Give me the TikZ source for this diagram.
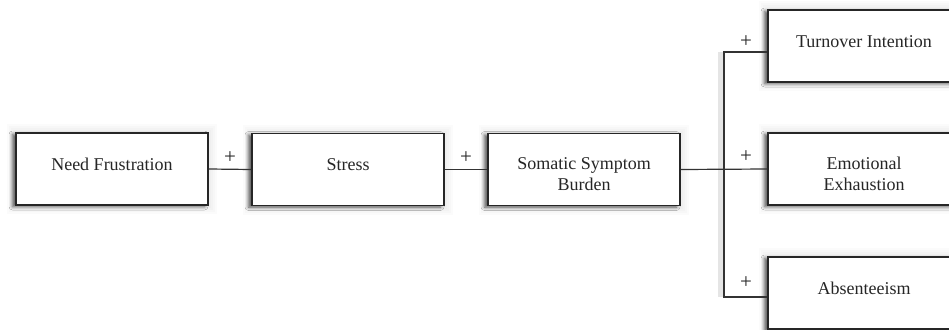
\documentclass[tikz,border=0pt]{standalone}
\usepackage{fontspec}
\setmainfont{Liberation Serif}
\usetikzlibrary{shadows.blur}
\begin{document}
\begin{tikzpicture}[x=1pt,y=-1pt,
  box/.style={draw=black!85, line width=1.4pt, fill=white, minimum width=192pt,
    minimum height=72pt, inner sep=0pt,
    preaction={draw=black, draw opacity=0.015, line width=18pt},
    preaction={draw=black, draw opacity=0.015, line width=14pt},
    preaction={draw=black, draw opacity=0.015, line width=10pt},
    preaction={draw=black, draw opacity=0.015, line width=6pt},
    blur shadow={shadow xshift=-3.5pt, shadow yshift=-1.5pt, shadow blur radius=3.5pt,
      shadow opacity=65}},
  lbl/.style={font=\fontsize{18}{21}\selectfont, align=center, inner sep=0pt, text=black!85},
  plus/.style={font=\fontsize{21}{24}\selectfont, inner sep=0pt, text=black!85},
  conn/.style={draw=black!80, line width=1.2pt},
  connshadow/.style={draw=black!10, line width=5pt}]
\clip (0,0) rectangle (949,329);
\fill[white] (0,0) rectangle (949,329);
% bus coordinates
\coordinate (bt) at (724,52);
\coordinate (bb) at (724,297);
% soft shadow of the bus
\draw[connshadow] (720,52) -- (720,297);
% boxes
\node[box] (need) at (112,169) {};
\node[box] (stress) at (348,169.5) {};
\node[box] (somatic) at (584,169.5) {};
\node[box] (turnover) at (864,46) {};
\node[box] (emotional) at (864,169) {};
\node[box] (absent) at (864,293) {};
% texts
\node[lbl] (need-t) at ([yshift=4.5pt]need.center) {Need Frustration};
\node[lbl] (stress-t) at ([yshift=4.5pt]stress.center) {Stress};
\node[lbl] (somatic-t) at ([yshift=-5pt]somatic.center) {Somatic Symptom\\Burden};
\node[lbl] (turnover-t) at ([yshift=4.5pt]turnover.center) {Turnover Intention};
\node[lbl] (emotional-t) at ([yshift=-5pt]emotional.center) {Emotional\\Exhaustion};
\node[lbl] (absent-t) at ([yshift=4.5pt]absent.center) {Absenteeism};
% connectors
\draw[conn] (need.east) -- (stress.west);
\draw[conn] (stress.east) -- (somatic.west);
\draw[conn] (somatic.east) -- (emotional.west);
\draw[conn] (turnover.west |- bt) -- (bt) -- (bb) -- (absent.west |- bb);
% plus signs
\node[plus] (p1) at (230,158) {+};
\node[plus] (p2) at (466,158) {+};
\node[plus] (p3) at (746,42) {+};
\node[plus] (p4) at (746,157) {+};
\node[plus] (p5) at (746,283) {+};
\end{tikzpicture}
\end{document}
